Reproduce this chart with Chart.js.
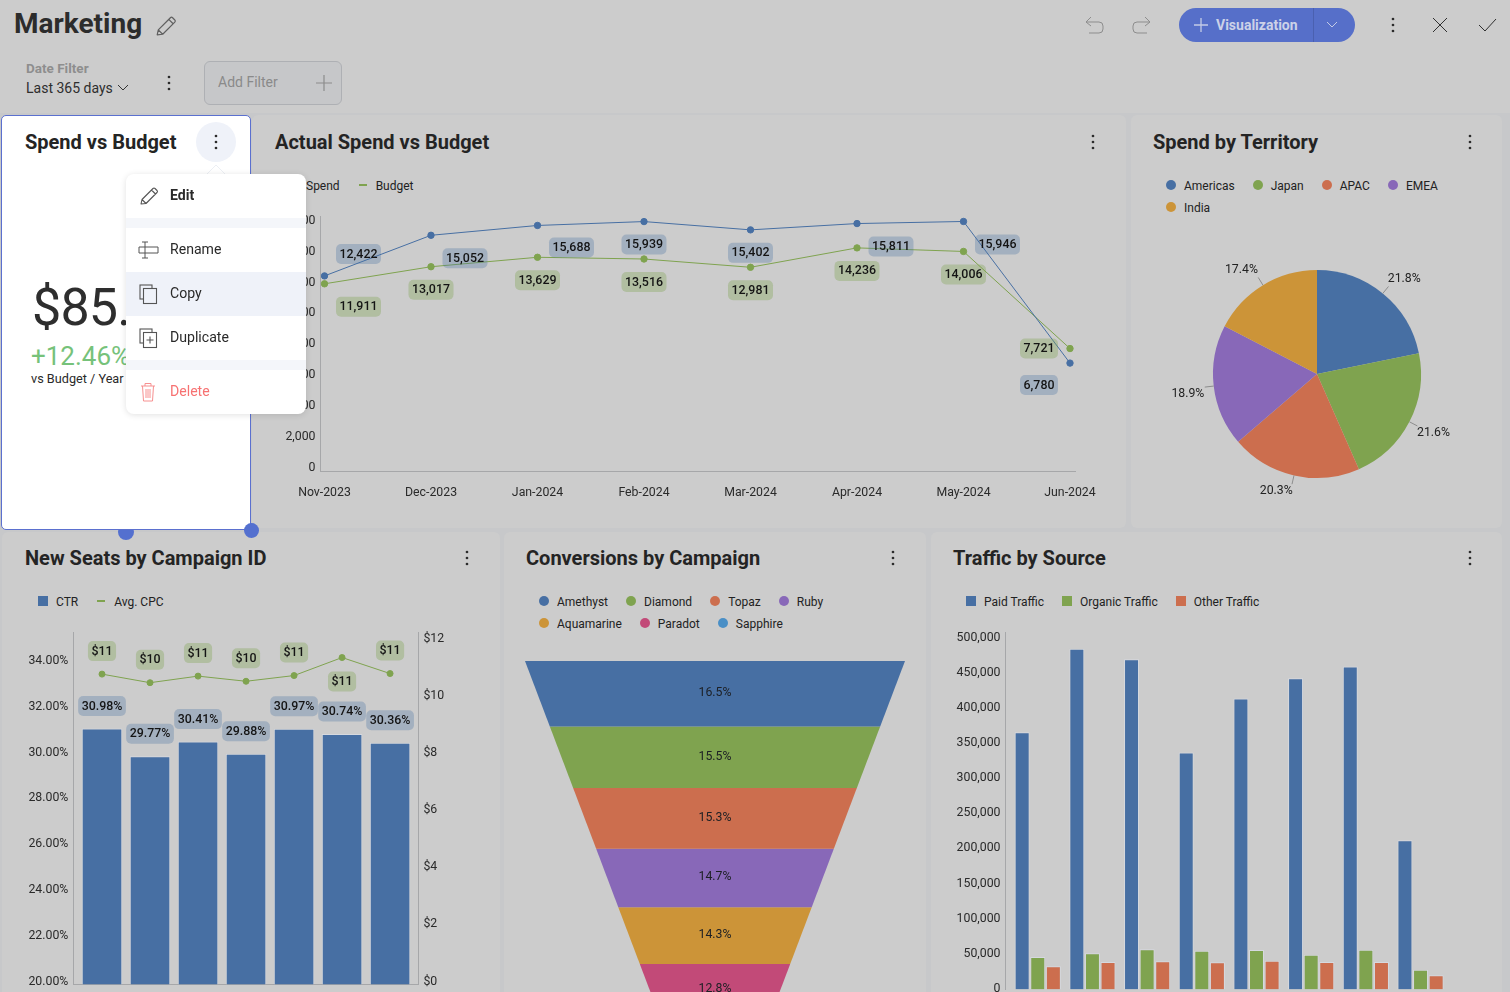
<!DOCTYPE html>
<html><head><meta charset="utf-8">
<script src="https://cdn.jsdelivr.net/npm/chart.js@4"></script>
<style>
html,body{margin:0;padding:0;width:1510px;height:992px;overflow:hidden;background:#c7c8ca;font-family:Roboto,sans-serif;color:#222}
#top{position:absolute;left:0;top:0;width:1510px;height:113px;background:#ccc}
.card{position:absolute;background:#ccc;border-radius:6px}
.t{position:absolute;white-space:nowrap;line-height:1;transform:translateY(-50%)}
canvas{position:absolute;display:block}
.ic{position:absolute;overflow:visible;fill:none}
.legend{position:absolute;display:flex;flex-wrap:wrap;column-gap:18px;font-size:12px;color:#222}
.legend .it{display:flex;align-items:center;height:22px}
.legend .it span:last-child{position:relative;top:0.6px}
.legend .m{width:10px;height:10px;margin-right:8px;flex:none}
.legend .m.c{border-radius:50%}
.legend .m.d{height:2px;margin-right:9px;margin-left:1px;width:8px}
#menu{position:absolute;left:126px;top:174px;width:180px;height:240px;background:#fff;border-radius:8px;overflow:hidden;z-index:11;box-shadow:0 1px 6px rgba(0,0,0,.12)}
#menu .row{position:absolute;left:0;width:180px;height:44px}
#menu .sep{position:absolute;left:0;width:180px;height:10px;background:#f4f6fa}
#menu .lbl{position:absolute;left:44px;top:21px;transform:translateY(-50%);font-size:14.1px;line-height:1;color:#2a2a2a}
</style></head><body>
<div id="top"></div>
<script>
/* ---------- data ---------- */
const months = ['Nov-2023','Dec-2023','Jan-2024','Feb-2024','Mar-2024','Apr-2024','May-2024','Jun-2024'];
const actualSpend = [12422,15052,15688,15939,15402,15811,15946,6780];
const actualBudget = [11911,13017,13629,13516,12981,14236,14006,7721];

const territories = ['Americas','Japan','APAC','EMEA','India'];
const territoryShare = [21.8,21.6,20.3,18.9,17.4];

const seatsCtr = [30.98,29.77,30.41,29.88,30.97,30.74,30.36];
const seatsCpc = [10.7,10.4,10.63,10.45,10.65,11.28,10.72];

const campaigns = ['Amethyst','Diamond','Topaz','Ruby','Aquamarine','Paradot','Sapphire'];
const campaignShare = [16.5,15.5,15.3,14.7,14.3,12.8,11.4];

const trafficSeries = ['Paid Traffic','Organic Traffic','Other Traffic'];
const paidTraffic = [363000,481900,467200,334200,411100,440100,456700,209400];
const organicTraffic = [43100,48400,54100,52200,53200,46500,53600,25100];
const otherTraffic = [29900,36100,37000,35600,37900,36100,36100,17100];

/* ---------- styles ---------- */
const BLUE='#476fa3',GREEN='#7fa34f',ORANGE='#cc6e4e',PURPLE='#8868b8',AMBER='#cc9438',PINK='#c24a78',SKY='#4a8fc6';
const palette=[BLUE,GREEN,ORANGE,PURPLE,AMBER,PINK,SKY];
const BLUE_PILL='rgba(71,111,163,0.3)',GREEN_PILL='rgba(127,163,79,0.35)';
const AXIS='#a6a7a9',TICK='#2a2a2a';
const FONT='Roboto, sans-serif';
const barEdge='rgba(222,228,238,0.55)';
const spendOffsets=[[34,-22],[34,23],[34,22],[0,23],[0,23],[34,23],[34,23],[-31,22]];
const budgetOffsets=[[34,23],[0,23],[0,23],[0,23],[0,23],[0,23],[0,23],[-31,0]];
const cpcOffsets=[-23,-23,-23,-23,-23,24,-23];
const pieNudges=[[5,6],[1,-1],[-12,-10],[0,5],[-8,7]];

/* ---------- page chrome ---------- */
const root=document.body;
function el(html){const d=document.createElement('div');d.innerHTML=html;while(d.firstChild)root.appendChild(d.firstChild);}
function card(x,y,w,h,extra){el(`<div class="card" style="left:${x}px;top:${y}px;width:${w}px;height:${h}px;${extra||''}"></div>`);}
function text(s,x,y,size,weight,color,z,extra){el(`<div class="t" style="left:${x}px;top:${y}px;font-size:${size}px;font-weight:${weight};color:${color};${z?'z-index:'+z+';':''}${extra||''}">${s}</div>`);}
function icon(x,y,w,h,body,z){el(`<svg class="ic" style="left:${x}px;top:${y}px;${z?'z-index:'+z:''}" width="${w}" height="${h}" viewBox="0 0 ${w} ${h}">${body}</svg>`);}
function kebab(x,y,z,c){icon(x-2,y-8,4,16,[2,8,14].map(v=>`<circle cx="2" cy="${v}" r="1.35" fill="${c||'#2b2b2b'}"/>`).join(''),z);}
const pencil=(c)=>`<path d="M2 18 L3 13.5 L14 2.5 Q15 1.5 16 2.5 L18 4.5 Q19 5.5 18 6.5 L7 17.5 Z M12.5 4 L16.5 8 M3 13.5 L7 17.5" stroke="${c}" stroke-width="1.1" stroke-linejoin="round"/>`;

card(1,115,248,413,'background:#fff;z-index:5;border:1px solid #5b70cf;border-radius:5px');
card(252,115,874,413);
card(1131,115,371,413);
card(2,532,498,470);
card(504,532,422,470);
card(931,532,571,470);

text('Marketing',14,24,28,700,'#2c2c2c');
icon(155,15,22,22,`<g transform="scale(1.1)">${pencil('#5f5f5f')}</g>`);
text('Date Filter',26,69,13.5,700,'#8e8e8e');
text('Last 365 days',26,88,14,400,'#2e2e2e');
icon(117,84,12,8,'<path d="M1 1 L6 6 L11 1" stroke="#333" stroke-width="1"/>');
kebab(169,83);
el('<div style="position:absolute;left:204px;top:61px;width:136px;height:42px;border:1px solid #aeb0b4;border-radius:6px;background:#c6c7c9"></div>');
text('Add Filter',218,82,14,400,'#8a8a8a');
icon(316,75,16,16,'<path d="M8 0 V16 M0 8 H16" stroke="#8c8c8c" stroke-width="1.2"/>');

icon(1085,16,20,20,'<path d="M1 6 H14 Q18 6 18 10 V13 Q18 17 14 17 H4 M6 1 L1 6 L6 10" stroke="#8d8d8d" stroke-width="1"/>');
icon(1131,16,20,20,'<path d="M19 6 H6 Q2 6 2 10 V13 Q2 17 6 17 H16 M14 1 L19 6 L14 10" stroke="#8d8d8d" stroke-width="1"/>');
el('<div style="position:absolute;left:1179px;top:8px;width:176px;height:34px;border-radius:17px;background:#566fc9"></div>');
el('<div style="position:absolute;left:1313px;top:8px;width:1px;height:34px;background:#4a60b0"></div>');
icon(1194,18,14,14,'<path d="M7 0 V14 M0 7 H14" stroke="#c3cbe6" stroke-width="1.3"/>');
text('Visualization',1216,25,14,700,'#ccd2e8');
icon(1326,21,12,8,'<path d="M1 1 L6 6 L11 1" stroke="#c3cbe6" stroke-width="1"/>');
kebab(1393,25);
icon(1432,17,16,16,'<path d="M1 1 L15 15 M15 1 L1 15" stroke="#2f2f2f" stroke-width="1"/>');
icon(1478,18,19,14,'<path d="M1 7 L7 13 L18 1" stroke="#2f2f2f" stroke-width="1"/>');

const TITLE=20;
text('Spend vs Budget',25,142,TITLE,700,'#242424',6);
text('Actual Spend vs Budget',275,142,TITLE,700,'#242424');
text('Spend by Territory',1153,142,TITLE,700,'#242424');
text('New Seats by Campaign ID',25,558,TITLE,700,'#242424');
text('Conversions by Campaign',526,558,TITLE,700,'#242424');
text('Traffic by Source',953,558,TITLE,700,'#242424');
kebab(1093,142);kebab(1470,142);kebab(467,558);kebab(893,558);kebab(1470,558);

el('<div style="position:absolute;left:196px;top:122px;width:40px;height:40px;border-radius:50%;background:#eff2f9;z-index:6"></div>');
kebab(216,142,7);
text('$85.',32,308,52,400,'#2e2e2e',6,'letter-spacing:-0.8px;');
text('+12.46%',31,356,26,400,'#76c27a',6);
text('vs Budget / Year',31,379,12.7,400,'#2a2a2a',6);
el('<div style="position:absolute;left:118px;top:524px;width:16px;height:16px;border-radius:50%;background:#5470cf;z-index:4"></div>');
el('<div style="position:absolute;left:244px;top:523px;width:15px;height:15px;border-radius:50%;background:#5470cf;z-index:6"></div>');
icon(206,164,20,11,'<path d="M0 11 L10 1 L20 11 Z" fill="#fff" stroke="#eceff4" stroke-width="1"/>',10);

el(`<div id="menu">
<div class="row" style="top:0"><div class="lbl" style="font-weight:700">Edit</div></div>
<div class="sep" style="top:44px"></div>
<div class="row" style="top:54px"><div class="lbl">Rename</div></div>
<div class="row" style="top:98px;background:#eff2f9"><div class="lbl">Copy</div></div>
<div class="row" style="top:142px"><div class="lbl">Duplicate</div></div>
<div class="sep" style="top:186px"></div>
<div class="row" style="top:196px"><div class="lbl" style="color:#f77272">Delete</div></div>
</div>`);
icon(139,186,20,20,pencil('#555'),12);
icon(138,241,21,18,'<path d="M7 1 V17 M4 1 H10 M4 17 H10 M1 6 H20 V12 H1 Z" stroke="#555" stroke-width="1"/>',12);
icon(139,284,19,20,'<rect x="1" y="1" width="12" height="14" stroke="#555" stroke-width="1.1"/><rect x="4.5" y="4.5" width="13" height="15" fill="#eff2f9" stroke="#555" stroke-width="1.1"/>',12);
icon(139,328,19,20,'<rect x="1" y="1" width="12" height="14" stroke="#555" stroke-width="1.1"/><rect x="4.5" y="4.5" width="13" height="15" fill="#fff" stroke="#555" stroke-width="1.1"/><path d="M11 8.5 V15.5 M7.5 12 H14.5" stroke="#555" stroke-width="1.1"/>',12);
icon(140,382,16,20,'<path d="M1 4 H15 M5 4 V1.5 H11 V4 M2.5 4 L3.5 19 H12.5 L13.5 4 M6 7 V16 M8 7 V16 M10 7 V16" stroke="#f79090" stroke-width="1"/>',12);

function legend(x,y,w,items,colors,kinds){
  const html=items.map((n,i)=>{const k=kinds[i];
    return `<div class="it"><span class="m ${k}" style="background:${colors[i]}"></span><span>${n}</span></div>`}).join('');
  el(`<div class="legend" style="left:${x}px;top:${y}px;width:${w}px">${html}</div>`);
}
legend(288,174,300,['Spend','Budget'],[BLUE,GREEN],['c','d']);
legend(1166,174,320,territories,palette,territories.map(()=>'c'));
legend(38,590,300,['CTR','Avg. CPC'],[BLUE,GREEN],['','d']);
legend(539,590,330,campaigns,palette,campaigns.map(()=>'c'));
legend(966,590,400,trafficSeries,[BLUE,GREEN,ORANGE],['','','']);

/* ---------- chart helpers ---------- */
function canvasAt(x,y,w,h){
  const c=document.createElement('canvas');
  c.width=w;c.height=h;
  c.style.cssText=`left:${x}px;top:${y}px;width:${w}px;height:${h}px`;
  root.appendChild(c);return c.getContext('2d');
}
function pill(ctx,str,cx,cy,fill,h){
  ctx.save();
  ctx.font='500 12.4px '+FONT;
  const w=ctx.measureText(str).width+7;
  ctx.fillStyle=fill;
  ctx.beginPath();ctx.roundRect(cx-w/2,cy-(h||20)/2,w,h||20,5);ctx.fill();
  ctx.fillStyle='#141414';ctx.textAlign='center';ctx.textBaseline='middle';
  ctx.fillText(str,cx,cy+0.5);
  ctx.restore();
}
function ticksEvery(from,to,step){
  return s=>{const t=[];for(let v=from;v<=to;v+=step)t.push({value:v});s.ticks=t;};
}
function lowerLabels(scale,dy){
  if(scale._nudged)return;scale._nudged=true;
  const orig=scale._computeLabelItems;
  scale._computeLabelItems=function(a){
    const items=orig.call(this,a);
    items.forEach(it=>{it.options.translation=[it.options.translation[0],it.options.translation[1]+dy];});
    return items;
  };
}
const noGrid={display:false,drawTicks:false};
const base={responsive:false,animation:false,events:[],plugins:{legend:{display:false},tooltip:{enabled:false}}};
const tickFont={family:FONT,size:12.3};
Chart.defaults.font.family=FONT;

/* ---------- actual spend vs budget ---------- */
const xy=(arr)=>arr.map((v,i)=>({x:i,y:v}));
new Chart(canvasAt(252,200,874,310),{
  type:'line',
  data:{datasets:[
    {label:'Spend',data:xy(actualSpend),borderColor:BLUE,backgroundColor:BLUE,borderWidth:1,pointRadius:3.2,tension:0},
    {label:'Budget',data:xy(actualBudget),borderColor:GREEN,backgroundColor:GREEN,borderWidth:1,pointRadius:3.2,tension:0}
  ]},
  options:{...base,layout:{padding:{top:16,right:51,left:0,bottom:0}},
    scales:{
      x:{type:'linear',min:-0.0376,max:7.047,grid:noGrid,border:{color:AXIS},
        afterBuildTicks:ticksEvery(0,7,1),afterFit:s=>{s.height=39},
        ticks:{autoSkip:false,maxRotation:0,padding:15,color:TICK,font:tickFont,callback:v=>months[v]}},
      y:{min:-205,max:16300,grid:noGrid,border:{color:AXIS},
        afterBuildTicks:ticksEvery(0,16000,2000),afterFit:s=>{s.width=68.5},
        ticks:{padding:5,color:TICK,font:tickFont,callback:v=>v.toLocaleString('en-US')}}
    }},
  plugins:[{id:'pills',afterDatasetsDraw(ch){
    const a=ch.getDatasetMeta(0).data,b=ch.getDatasetMeta(1).data;
    a.forEach((p,i)=>pill(ch.ctx,actualSpend[i].toLocaleString('en-US'),p.x+spendOffsets[i][0],p.y+spendOffsets[i][1],BLUE_PILL));
    b.forEach((p,i)=>pill(ch.ctx,actualBudget[i].toLocaleString('en-US'),p.x+budgetOffsets[i][0],p.y+budgetOffsets[i][1],GREEN_PILL));
  }}]
});

/* ---------- spend by territory ---------- */
new Chart(canvasAt(1131,234,372,280),{
  type:'pie',
  data:{labels:territories,datasets:[{data:territoryShare,backgroundColor:palette.slice(0,5),borderWidth:0,radius:104}]},
  options:{...base},
  plugins:[{id:'pieLabels',afterDatasetsDraw(ch){
    const ctx=ch.ctx;
    ch.getDatasetMeta(0).data.forEach((a,i)=>{
      const mid=(a.startAngle+a.endAngle)/2,r=a.outerRadius,c=Math.cos(mid),s=Math.sin(mid);
      ctx.save();
      ctx.strokeStyle='#8d8d8d';ctx.lineWidth=1;ctx.beginPath();
      ctx.moveTo(a.x+c*r,a.y+s*r);ctx.lineTo(a.x+c*(r+9),a.y+s*(r+9));ctx.stroke();
      ctx.fillStyle='#222';ctx.font='12.3px '+FONT;ctx.textAlign='center';ctx.textBaseline='middle';
      ctx.fillText(territoryShare[i].toFixed(1)+'%',a.x+c*(r+26)+pieNudges[i][0],a.y+s*(r+26)+pieNudges[i][1]);
      ctx.restore();
    });
  }}]
});

/* ---------- new seats by campaign id ---------- */
new Chart(canvasAt(2,620,498,400),{
  data:{datasets:[
    {type:'line',label:'Avg. CPC',data:xy(seatsCpc),yAxisID:'y1',borderColor:GREEN,backgroundColor:GREEN,borderWidth:1,pointRadius:3,tension:0,order:0},
    {type:'bar',label:'CTR',data:xy(seatsCtr),yAxisID:'y',backgroundColor:BLUE,borderColor:barEdge,borderWidth:1,barPercentage:0.845,categoryPercentage:1,order:1}
  ]},
  options:{...base,layout:{padding:{top:12.3,right:41.6,left:0,bottom:0}},
    scales:{
      x:{type:'linear',offset:false,min:-0.598,max:6.59,grid:noGrid,border:{color:AXIS},
        afterBuildTicks:ticksEvery(0,6,1),afterFit:s=>{s.height=35.7},ticks:{display:false}},
      y:{position:'left',min:19.81,max:35.18,grid:noGrid,border:{color:AXIS},
        afterBuildTicks:ticksEvery(20,34,2),afterFit:s=>{s.width=71.3;lowerLabels(s,1.5)},
        ticks:{padding:5,color:TICK,font:tickFont,callback:v=>v.toFixed(2)+'%'}},
      y1:{position:'right',min:-0.15,max:12.16,grid:noGrid,border:{color:AXIS},
        afterBuildTicks:ticksEvery(0,12,2),afterFit:s=>{s.width=40;lowerLabels(s,1.5)},
        ticks:{padding:5,color:TICK,font:tickFont,callback:v=>'$'+v}}
    }},
  plugins:[{id:'pills',afterDatasetsDraw(ch){
    ch.getDatasetMeta(1).data.forEach((p,i)=>pill(ch.ctx,seatsCtr[i].toFixed(2)+'%',p.x,p.y-22.5,BLUE_PILL));
    ch.getDatasetMeta(0).data.forEach((p,i)=>pill(ch.ctx,'$'+Math.round(seatsCpc[i]),p.x,p.y+cpcOffsets[i],GREEN_PILL));
  }}]
});

/* ---------- conversions by campaign (funnel) ---------- */
const funnelTopHalf=190,funnelSlope=0.379;
new Chart(canvasAt(505,640,420,430),{
  type:'bar',
  data:{labels:[''],datasets:campaigns.map((n,i)=>({label:n,data:[campaignShare[i]],backgroundColor:palette[i],borderWidth:0}))},
  options:{...base,layout:{padding:{top:21,bottom:12,left:0,right:0}},
    scales:{x:{stacked:true,display:false},y:{stacked:true,display:false,reverse:true,min:0,max:100}}},
  plugins:[{id:'funnel',beforeDatasetDraw(ch,args){
    const top=ch.chartArea.top;
    args.meta.data.forEach(bar=>{
      bar.draw=function(ctx){
        const y0=Math.min(this.y,this.base),y1=Math.max(this.y,this.base),cx=this.x;
        const h0=funnelTopHalf-(y0-top)*funnelSlope,h1=funnelTopHalf-(y1-top)*funnelSlope;
        ctx.save();ctx.fillStyle=this.options.backgroundColor;ctx.beginPath();
        ctx.moveTo(cx-h0,y0);ctx.lineTo(cx+h0,y0);ctx.lineTo(cx+h1,y1);ctx.lineTo(cx-h1,y1);ctx.closePath();ctx.fill();ctx.restore();
      };
    });
  },afterDatasetsDraw(ch){
    const ctx=ch.ctx;
    campaignShare.forEach((v,i)=>{
      const b=ch.getDatasetMeta(i).data[0];
      ctx.save();ctx.fillStyle='#1c1f24';ctx.font='12.3px '+FONT;ctx.textAlign='center';ctx.textBaseline='middle';
      ctx.fillText(v.toFixed(1)+'%',b.x,(b.y+b.base)/2-0.8);ctx.restore();
    });
  }}]
});

/* ---------- traffic by source ---------- */
const trafficBars=[paidTraffic,organicTraffic,otherTraffic];
new Chart(canvasAt(931,620,571,400),{
  type:'bar',
  data:{datasets:trafficBars.map((arr,i)=>({label:trafficSeries[i],data:xy(arr),backgroundColor:palette[i],borderColor:barEdge,borderWidth:1,base:-3100,barPercentage:0.96,categoryPercentage:0.856}))},
  options:{...base,layout:{padding:{top:12.3,right:12,left:0,bottom:0}},
    scales:{
      x:{type:'linear',offset:false,min:-0.59,max:8.27,grid:noGrid,border:{display:false},
        afterBuildTicks:ticksEvery(0,8,1),afterFit:s=>{s.height=30.5},ticks:{display:false}},
      y:{min:-3100,max:505300,grid:noGrid,border:{color:AXIS},
        afterBuildTicks:ticksEvery(0,500000,50000),afterFit:s=>{s.width=74.5;lowerLabels(s,1.5)},
        ticks:{padding:5,color:TICK,font:tickFont,callback:v=>v.toLocaleString('en-US')}}
    }}
});
</script>
</body></html>
